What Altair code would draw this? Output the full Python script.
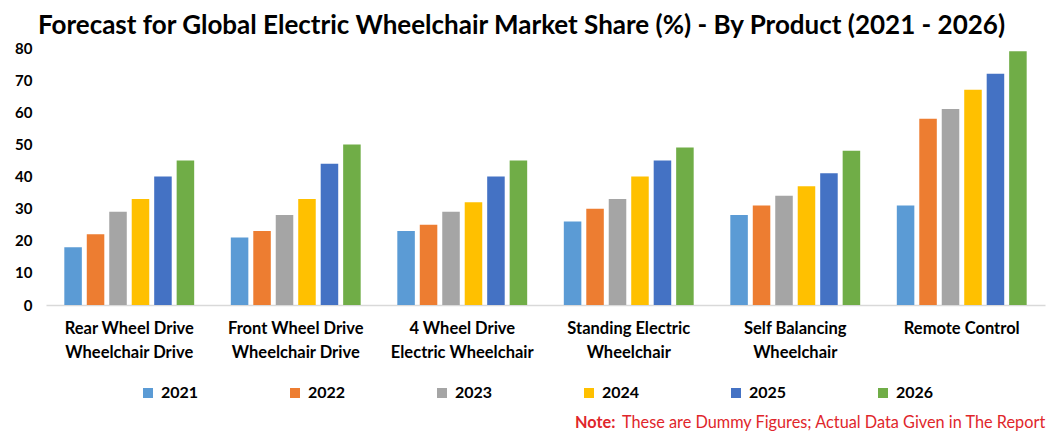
import altair as alt
import pandas as pd

categories = [
    "Rear Wheel Drive\nWheelchair Drive",
    "Front Wheel Drive\nWheelchair Drive",
    "4 Wheel Drive\nElectric Wheelchair",
    "Standing Electric\nWheelchair",
    "Self Balancing\nWheelchair",
    "Remote Control",
]
years = ["2021", "2022", "2023", "2024", "2025", "2026"]
values_2021 = [18, 21, 23, 26, 28, 31]
values_2022 = [22, 23, 25, 30, 31, 58]
values_2023 = [29, 28, 29, 33, 34, 61]
values_2024 = [33, 33, 32, 40, 37, 67]
values_2025 = [40, 44, 40, 45, 41, 72]
values_2026 = [45, 50, 45, 49, 48, 79]
colors = ["#5B9BD5", "#ED7D31", "#A5A5A5", "#FFC000", "#4472C4", "#70AD47"]

series = [values_2021, values_2022, values_2023, values_2024, values_2025, values_2026]
rows = []
for yr, vals in zip(years, series):
    for cat, v in zip(categories, vals):
        rows.append({"Product": cat, "Year": yr, "Share": v})
df = pd.DataFrame(rows)

FONT = "Lato"

bars = alt.Chart(df).mark_bar().encode(
    x=alt.X("Product:N", sort=categories, title=None,
            scale=alt.Scale(paddingInner=0.22, paddingOuter=0.11),
            axis=alt.Axis(labelAngle=0, labelExpr="split(datum.label, '\\n')",
                          labelFont=FONT, labelFontWeight="bold", labelFontSize=16.5,
                          labelColor="#000000", labelLineHeight=24, labelPadding=15,
                          ticks=False, domainColor="#D9D9D9", domainWidth=1.5)),
    xOffset=alt.XOffset("Year:N", sort=years,
                        scale=alt.Scale(paddingInner=0.22)),
    y=alt.Y("Share:Q", title=None,
            scale=alt.Scale(domain=[0, 80]),
            axis=alt.Axis(values=list(range(0, 81, 10)), grid=False, domain=False,
                          ticks=False, labelPadding=14, labelFont=FONT,
                          labelFontWeight="bold", labelFontSize=15, labelColor="#000000")),
    color=alt.Color("Year:N", sort=years,
                    scale=alt.Scale(domain=years, range=colors),
                    legend=alt.Legend(title=None, orient="none", direction="horizontal",
                                      columns=6, legendX=94, legendY=337,
                                      symbolType="square", symbolSize=100,
                                      symbolStrokeWidth=0, columnPadding=88,
                                      labelFont=FONT, labelFontWeight="bold",
                                      labelFontSize=16, labelColor="#000000",
                                      labelOffset=5)),
)

note_df = pd.DataFrame({"t": ["Note:"], "r": ["These are Dummy Figures; Actual Data Given in The Report"]})
note1 = alt.Chart(note_df).mark_text(align="left", baseline="alphabetic", font=FONT,
                                     fontWeight="bold", fontSize=16.3, color="#E0262B").encode(
    text="t:N", x=alt.value(529), y=alt.value(380))
note2 = alt.Chart(note_df).mark_text(align="left", baseline="alphabetic", font=FONT,
                                     fontSize=16.3, color="#E0262B").encode(
    text="r:N", x=alt.value(576), y=alt.value(380))

chart = alt.layer(bars, note1, note2).properties(
    width=999, height=257,
    padding={"left": 38, "top": 40, "right": 3, "bottom": 127},
    autosize=alt.AutoSizeParams(type="none"),
    title=alt.Title("Forecast for Global Electric Wheelchair Market Share (%) - By Product (2021 - 2026)",
                    font=FONT, fontSize=26, fontWeight="bold", color="#000000",
                    anchor="middle", offset=12, dx=-24, dy=10),
).configure_view(stroke=None)

chart.save("out.html", embed_options={"renderer": "svg", "actions": False})
